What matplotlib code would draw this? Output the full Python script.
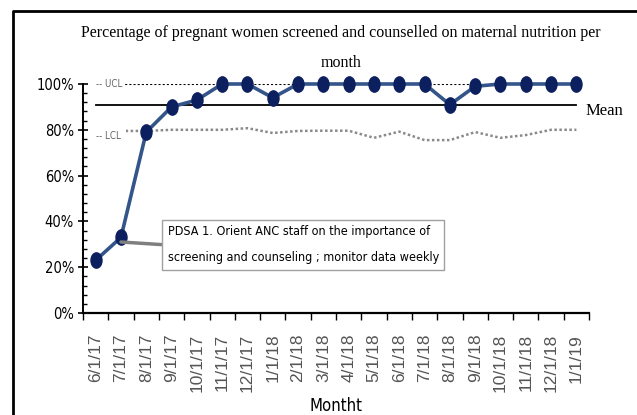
import numpy as np
import matplotlib.pyplot as plt
from matplotlib.lines import Line2D
from matplotlib.path import Path

# monthly run chart values
months = ['6/1/17', '7/1/17', '8/1/17', '9/1/17', '10/1/17', '11/1/17', '12/1/17',
          '1/1/18', '2/1/18', '3/1/18', '4/1/18', '5/1/18', '6/1/18', '7/1/18',
          '8/1/18', '9/1/18', '10/1/18', '11/1/18', '12/1/18', '1/1/19']
screened = [23, 33, 79, 90, 93, 100, 100, 94, 100, 100, 100, 100, 100, 100,
            91, 99, 100, 100, 100, 100]
ucl = [100] * 20
lcl = [79.5, 79.5, 79.5, 80, 80, 80, 80.7, 78.6, 79.5, 79.6, 79.6, 76.5, 79.2,
       75.5, 75.5, 79, 76.5, 77.7, 80, 80]
mean_value = 91
note = "PDSA 1. Orient ANC staff on the importance of\nscreening and counseling ; monitor data weekly"

narrow = ['DejaVu Sans']
serif = ['Liberation Serif', 'DejaVu Serif']

fig = plt.figure(figsize=(6.37, 4.15), dpi=100)
ax = fig.add_axes([0.1303, 0.2458, 0.7944, 0.5518])
x = np.arange(len(months))

# tall oval marker like the squeezed original
circ = Path.unit_circle()
oval = Path(circ.vertices * [0.72, 1.0], circ.codes)

ax.plot(x, ucl, color='black', lw=1.5, linestyle=(0, (1, 1)))
ax.plot(x, lcl, color='#8a8a8a', lw=1.8, linestyle=(0, (1, 1)))
ax.plot(x, [mean_value] * len(x), color='black', lw=1.3)
ax.plot(x, screened, color='#34558a', lw=2.6, marker=oval, markersize=11,
        markerfacecolor='#0c1f5e', markeredgecolor='#0c1f5e', clip_on=False, zorder=5)

ax.text(0, 100, '-- UCL', fontsize=7, family=narrow, stretch='condensed', color='#666666',
        va='center', bbox=dict(facecolor='white', edgecolor='none', pad=1.5))
ax.text(0, 77.5, '-- LCL', fontsize=7, family=narrow, stretch='condensed', color='#666666',
        va='center', bbox=dict(facecolor='white', edgecolor='none', pad=4))
ax.text(19.35, 88, 'Mean', fontsize=12, family=serif, va='center', clip_on=False)

ax.annotate(note, xy=(1, 31), xytext=(2.84, 29.7), fontsize=9, family=narrow,
            stretch='condensed', va='center', ha='left', linespacing=2.3,
            bbox=dict(boxstyle='square,pad=0.45', facecolor='white', edgecolor='#a0a0a0', lw=1),
            arrowprops=dict(arrowstyle='-', color='#7f7f7f', lw=2.5, shrinkA=0, shrinkB=0,
                            relpos=(0, 0.5)), zorder=6)

ax.set_xlim(-0.5, len(months) - 0.5)
ax.set_ylim(0, 100)
ax.set_yticks(range(0, 101, 20))
ax.set_yticks(range(0, 101, 4), minor=True)
ax.set_yticklabels([f'{v}%' for v in range(0, 101, 20)], family=narrow,
                   stretch='condensed', fontsize=10.5)
ax.tick_params(axis='y', which='major', direction='inout', length=7, width=1.2, pad=3)
ax.tick_params(axis='y', which='minor', direction='in', length=3, width=1)

ax.set_xticks(np.arange(len(months) + 1) - 0.5)
ax.set_xticklabels([])
ax.set_xticks(x, minor=True)
ax.set_xticklabels(months, minor=True, rotation=90, fontsize=12.5, family='Liberation Sans',
                   color='#555555')
ax.tick_params(axis='x', which='major', direction='out', length=5, width=1)
ax.tick_params(axis='x', which='minor', length=0, pad=15)
ax.set_xlabel('Montht', family=narrow, stretch='condensed', fontsize=12)
ax.xaxis.set_label_coords(0.5, -0.365)

for s in ['top', 'right']:
    ax.spines[s].set_visible(False)
ax.spines['left'].set_linewidth(1.4)
ax.spines['bottom'].set_linewidth(1.6)

fig.text(0.535, 0.885,
         'Percentage of pregnant women screened and counselled on maternal nutrition per\nmonth',
         ha='center', va='center', fontsize=11.5, family=serif, linespacing=2.2)

# outer frame (top and left edges visible)
fig.add_artist(Line2D([13 / 637, 13 / 637, 1], [0, 1 - 11 / 415, 1 - 11 / 415],
                      transform=fig.transFigure, color='black', lw=2))

fig.savefig('out.png', dpi=100)
